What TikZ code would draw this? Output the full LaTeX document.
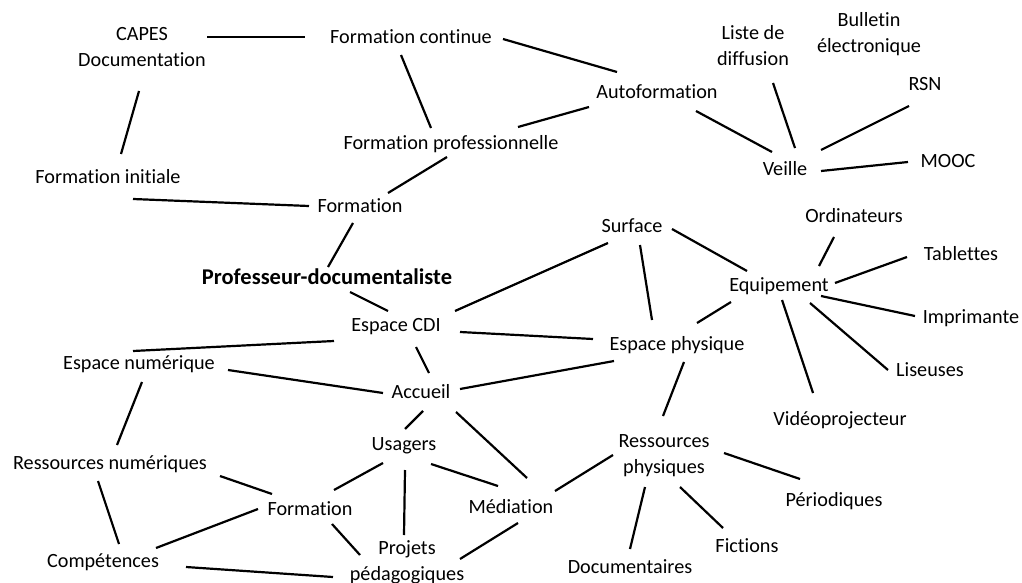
\documentclass[tikz,border=0pt]{standalone}
\usepackage{fontspec}
\setmainfont{Carlito}[Ligatures=NoCommon]
\begin{document}
\begin{tikzpicture}[x=1pt,y=-1pt,
  lbl/.style={font=\fontsize{20.2}{26}\selectfont, inner sep=0pt, anchor=center, align=center, text height=12.8pt, text depth=0pt},
  lbltwo/.style={font=\fontsize{20.2}{26}\selectfont, inner sep=0pt, anchor=center, align=center},
  link/.style={line width=2.2pt, line cap=butt}]
\useasboundingbox[fill=white] (0,0) rectangle (1022,583);
\newcommand\lk[4]{\draw[link] ([shift={(#2)}]#1.center) -- ([shift={(#4)}]#3.center);}
% nodes
\node[lbltwo] (capes) at (142,47) {CAPES\\Documentation};
\node[lbl] (fcont) at (411,37) {Formation continue};
\node[lbl] (fprof) at (451,143) {Formation professionnelle};
\node[lbl] (finit) at (108,177) {Formation initiale};
\node[lbl] (form1) at (360,206) {Formation};
\node[lbl, font=\fontsize{22.5}{26}\selectfont\bfseries, text height=14pt] (prof) at (327,277) {Professeur-documentaliste};
\node[lbl] (auto) at (657,92) {Autoformation};
\node[lbltwo] (liste) at (753,46) {Liste de\\diffusion};
\node[lbltwo] (bull) at (869,34) {Bulletin\\électronique};
\node[lbl] (rsn) at (925,84) {RSN};
\node[lbl] (mooc) at (948,161) {MOOC};
\node[lbl] (veille) at (785,169) {Veille};
\node[lbl] (surf) at (632,226) {Surface};
\node[lbl] (ordi) at (854,216) {Ordinateurs};
\node[lbl] (tabl) at (961,254) {Tablettes};
\node[lbl] (equip) at (779,285) {Equipement};
\node[lbl] (impr) at (971,317) {Imprimante};
\node[lbl] (ephys) at (677,344) {Espace physique};
\node[lbl] (lis) at (930,370) {Liseuses};
\node[lbl] (video) at (840,419) {Vidéoprojecteur};
\node[lbltwo] (rphys) at (664,456) {Ressources\\physiques};
\node[lbl] (perio) at (834,500) {Périodiques};
\node[lbl] (fict) at (747,546) {Fictions};
\node[lbl] (docu) at (630,567) {Documentaires};
\node[lbl] (ecdi) at (396,325) {Espace CDI};
\node[lbl] (enum) at (139,363) {Espace numérique};
\node[lbl] (accu) at (421,392) {Accueil};
\node[lbl] (usag) at (404,444) {Usagers};
\node[lbl] (rnum) at (110,463) {Ressources numériques};
\node[lbl] (form2) at (310,509) {Formation};
\node[lbl] (medi) at (511,507) {Médiation};
\node[lbltwo] (proj) at (407,562) {Projets\\pédagogiques};
\node[lbl] (comp) at (103,561) {Compétences};
% links
\lk{capes}{65,-10}{fcont}{-106,0}
\lk{fcont}{-10,18}{fprof}{-20,-15}
\lk{capes}{-3,44}{finit}{13,-23}
\lk{finit}{25,22}{form1}{-51,0}
\lk{fprof}{-4,14}{form1}{28,-13}
\lk{form1}{-7,17}{prof}{1,-10}
\lk{fcont}{92,2}{auto}{-40,-20}
\lk{auto}{-68,15}{fprof}{67,-16}
\lk{auto}{39,19}{veille}{-13,-17}
\lk{liste}{20,37}{veille}{10,-21}
\lk{rsn}{-16,22}{veille}{36,-19}
\lk{mooc}{-40,1}{veille}{36,2}
\lk{surf}{40,3}{equip}{-32,-14}
\lk{surf}{-24,17}{ecdi}{59,-14}
\lk{surf}{8,19}{ephys}{-25,-24}
\lk{ordi}{-20,21}{equip}{40,-19}
\lk{tabl}{-54,3}{equip}{56,-2}
\lk{equip}{42,11}{impr}{-56,-1}
\lk{equip}{-48,17}{ephys}{20,-21}
\lk{equip}{3,15}{video}{-27,-26}
\lk{equip}{31,18}{lis}{-42,0}
\lk{ecdi}{64,7}{ephys}{-84,-5}
\lk{accu}{39,-3}{ephys}{-63,17}
\lk{ephys}{7,18}{rphys}{-1,-40}
\lk{rphys}{-51,-1}{medi}{44,-16}
\lk{rphys}{60,-3}{perio}{-34,-21}
\lk{rphys}{-19,31}{docu}{0,-18}
\lk{rphys}{16,31}{fict}{-24,-18}
\lk{accu}{35,20}{medi}{16,-29}
\lk{medi}{7,16}{proj}{53,-3}
\lk{prof}{23,15}{ecdi}{-8,-14}
\lk{ecdi}{-62,16}{enum}{-6,-12}
\lk{ecdi}{20,22}{accu}{8,-19}
\lk{enum}{89,7}{accu}{-38,1}
\lk{enum}{3,19}{rnum}{7,-18}
\lk{accu}{2,19}{usag}{1,-15}
\lk{usag}{-21,19}{form2}{24,-19}
\lk{usag}{1,26}{proj}{-3,-27}
\lk{usag}{27,20}{medi}{-13,-21}
\lk{rnum}{110,13}{form2}{-38,-15}
\lk{rnum}{-12,18}{comp}{16,-17}
\lk{form2}{-52,0}{comp}{53,-13}
\lk{form2}{22,15}{proj}{-47,-7}
\lk{comp}{83,6}{proj}{-74,15}
\end{tikzpicture}
\end{document}
